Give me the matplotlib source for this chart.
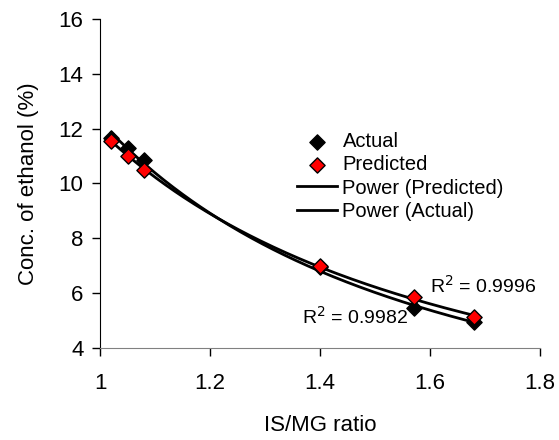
import numpy as np
import matplotlib
matplotlib.use("Agg")
import matplotlib.pyplot as plt

plt.rcParams['font.family'] = ['Liberation Sans', 'DejaVu Sans']

# data
is_mg_ratio = [1.02, 1.05, 1.08, 1.40, 1.57, 1.68]
actual = [11.65, 11.3, 10.85, 6.95, 5.45, 4.95]
predicted = [11.55, 11.0, 10.5, 7.0, 5.85, 5.12]
r2_actual = "0.9982"
r2_predicted = "0.9996"

x = np.array(is_mg_ratio)

# power trendlines (y = a*x^b), like Excel
def power_fit(xv, yv):
    b, loga = np.polyfit(np.log(xv), np.log(yv), 1)
    return np.exp(loga), b

xs = np.linspace(x.min(), x.max(), 200)
a_p, b_p = power_fit(x, np.array(predicted))
a_a, b_a = power_fit(x, np.array(actual))

fig = plt.figure(figsize=(5.59, 4.4), dpi=100)
ax = fig.add_axes([0.179, 0.209, 0.787, 0.748])

ax.scatter(x, actual, marker='D', s=60, color='black', zorder=3, label='Actual')
ax.scatter(x, predicted, marker='D', s=60, color='red', edgecolor='black',
           linewidth=1, zorder=4, label='Predicted')
ax.plot(xs, a_p * xs ** b_p, color='black', lw=2, label='Power (Predicted)', zorder=2)
ax.plot(xs, a_a * xs ** b_a, color='black', lw=2, label='Power (Actual)', zorder=2)

ax.text(1.6, 6.0, r'R$^2$ = ' + r2_predicted, fontsize=14, va='baseline')
ax.text(1.367, 4.9, r'R$^2$ = ' + r2_actual, fontsize=14, va='baseline')

ax.set_xlim(1, 1.8)
ax.set_ylim(4, 16)
ax.set_xticks([1, 1.2, 1.4, 1.6, 1.8])
ax.set_xticklabels(['1', '1.2', '1.4', '1.6', '1.8'])
ax.set_yticks([4, 6, 8, 10, 12, 14, 16])
ax.tick_params(labelsize=16, direction='out', length=6, width=1)
ax.tick_params(axis='x', pad=12)
ax.tick_params(axis='y', pad=6)

ax.set_xlabel('IS/MG ratio', fontsize=16, labelpad=15)
ax.set_ylabel('Conc. of ethanol (%)', fontsize=16, labelpad=14)

ax.spines['top'].set_visible(False)
ax.spines['right'].set_visible(False)
ax.spines['bottom'].set_color('#808080')

leg = ax.legend(loc='upper left', bbox_to_anchor=(0.448, 0.655), frameon=False,
                fontsize=14.5, handlelength=2.0, handletextpad=0.25,
                labelspacing=0.2, borderpad=0, borderaxespad=0)

fig.savefig('out.png', dpi=100)
